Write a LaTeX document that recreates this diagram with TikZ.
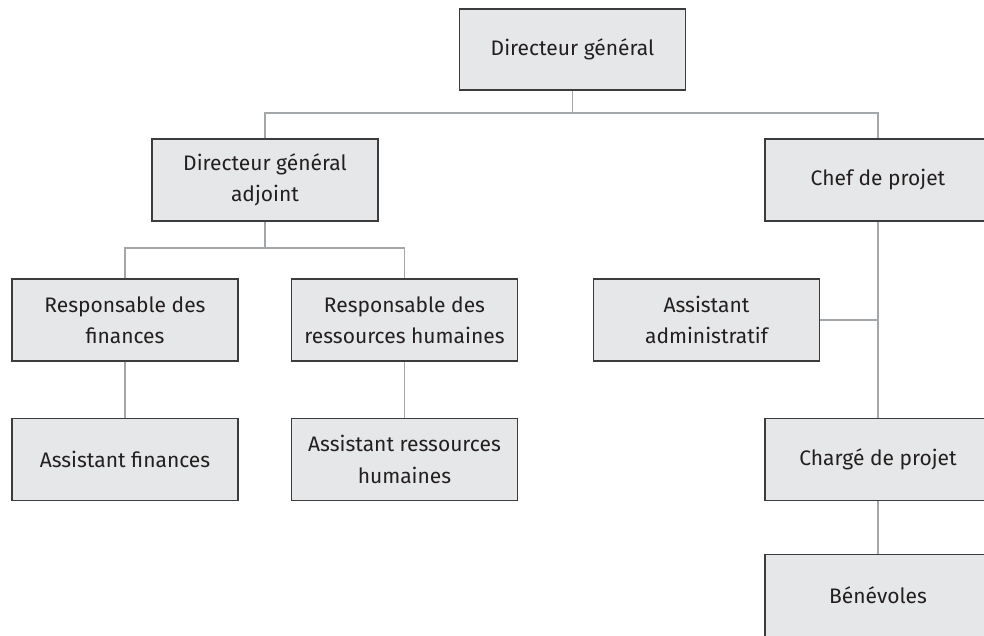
\documentclass[tikz,border=0pt]{standalone}
\usepackage{fontspec}
\setmainfont{Fira Sans}
\definecolor{boxfill}{HTML}{E6E7E8}
\definecolor{boxline}{HTML}{3C3C3C}
\definecolor{linkline}{HTML}{A3A7A9}
\definecolor{txt}{HTML}{231F20}
\begin{document}
\begin{tikzpicture}[x=1pt,y=-1pt,
  orgbox/.style={draw=boxline,line width=1.2pt,fill=boxfill,minimum width=226pt,minimum height=82pt,
    inner sep=0pt,align=center,text=txt,font=\fontsize{21}{31.5}\selectfont},
  link/.style={draw=linkline,line width=1.9pt}]
\useasboundingbox (0,0) rectangle (984,635);
\node[orgbox,minimum height=81pt] (dg) at (572.5,49.5) {Directeur général};
\node[orgbox] (dga) at (265,180) {Directeur général\\adjoint};
\node[orgbox] (cp) at (878,180) {Chef de projet};
\node[orgbox] (rf) at (125,320) {Responsable des\\finances};
\node[orgbox] (rrh) at (404.5,320) {Responsable des\\ressources humaines};
\node[orgbox] (aa) at (706.5,320) {Assistant\\administratif};
\node[orgbox] (af) at (125,459.5) {Assistant finances};
\node[orgbox] (arh) at (404.5,459.5) {Assistant ressources\\humaines};
\node[orgbox] (cdp) at (878,459.5) {Chargé de projet};
\node[orgbox] (ben) at (878,595.5) {Bénévoles};
\coordinate (j1) at (572.5,113);
\coordinate (j2) at (265,248);
\coordinate (j3) at (878,320);
\draw[link] (dg.south) -- (j1);
\draw[link] (dga.north) |- (j1) -| (cp.north);
\draw[link] (dga.south) -- (j2);
\draw[link] (rf.north) |- (j2) -| (rrh.north);
\draw[link] (rf.south) -- (af.north);
\draw[link] (rrh.south) -- (arh.north);
\draw[link] (cp.south) -- (cdp.north);
\draw[link] (aa.east) -- (j3);
\draw[link] (cdp.south) -- (ben.north);
\end{tikzpicture}
\end{document}
